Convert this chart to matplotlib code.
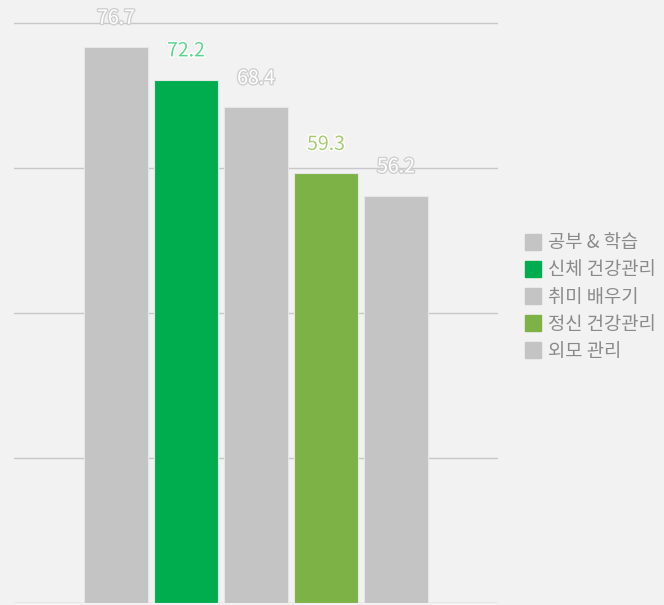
import matplotlib.pyplot as plt
import matplotlib.patheffects as pe
from matplotlib.lines import Line2D

plt.rcParams['font.family'] = ['Noto Sans CJK KR', 'DejaVu Sans']

categories = ['공부 & 학습', '신체 건강관리', '취미 배우기', '정신 건강관리', '외모 관리']
values = [76.7, 72.2, 68.4, 59.3, 56.2]
colors = ['#c4c4c4', '#00ad4e', '#c4c4c4', '#7db246', '#c4c4c4']
label_colors = ['#ffffff', '#5ed692', '#ffffff', '#a8cc72', '#ffffff']
label_strokes = ['#cfcfcf', '#ffffff', '#cfcfcf', '#ffffff', '#cfcfcf']

fig = plt.figure(figsize=(6.64, 6.05), dpi=100, facecolor='#f2f2f2')
ax = fig.add_axes([14 / 664, 2 / 605, 484 / 664, 603 / 605])
ax.set_facecolor('#f2f2f2')

x = range(len(values))
ax.bar(x, values, width=0.92, color=colors, edgecolor='#e6e6e6', linewidth=0.8, zorder=3)

for i, v in enumerate(values):
    ax.text(i, v + 2.5, f'{v}', ha='center', va='bottom', fontsize=14,
            color=label_colors[i], fontweight='light', zorder=4,
            path_effects=[pe.withStroke(linewidth=2, foreground=label_strokes[i])])

ax.set_xlim(-1.457, 5.457)
ax.set_ylim(0, 83.17)
ax.set_yticks([0, 20, 40, 60, 80])
ax.yaxis.grid(True, color='#c8c8c8', linewidth=1)
ax.set_axisbelow(True)
ax.tick_params(left=False, bottom=False, labelleft=False, labelbottom=False)
for s in ax.spines.values():
    s.set_visible(False)

handles = [Line2D([], [], marker='s', linestyle='none', markersize=11.5,
                  markerfacecolor=c, markeredgecolor=c) for c in colors]
fig.legend(handles, categories, loc='center left', bbox_to_anchor=(0.764, 0.509),
           frameon=False, prop={'size': 13.5, 'weight': 'light'}, labelcolor='#8a8a8a',
           handletextpad=0.35, labelspacing=0.33, handlelength=0.9)

fig.savefig('out.png', dpi=100, facecolor=fig.get_facecolor())
